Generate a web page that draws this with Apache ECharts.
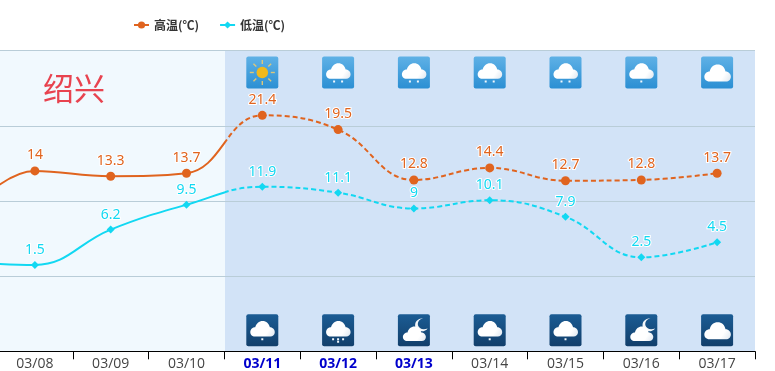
<!DOCTYPE html>
<html>
<head>
<meta charset="utf-8">
<style>html,body{margin:0;padding:0;background:#fff}#c{width:775px;height:371px}</style>
<script src="https://cdn.jsdelivr.net/npm/echarts@6/dist/echarts.min.js"></script>
</head>
<body>
<div id="c"></div>
<script>
// The first category sits off the left edge: the lines run in from it.
const categories = ['03/07','03/08','03/09','03/10','03/11','03/12','03/13','03/14','03/15','03/16','03/17'];
const forecastDays = ['03/11','03/12','03/13'];
const highTemps = [7, 14, 13.3, 13.7, 21.4, 19.5, 12.8, 14.4, 12.7, 12.8, 13.7];
const lowTemps = [2, 1.5, 6.2, 9.5, 11.9, 11.1, 9, 10.1, 7.9, 2.5, 4.5];
const dayIcons = ['sun','rain2','rain2','rain2','rain2','rain1','cloud'];
const nightIcons = ['rain1','rain3','moon','rain1','rain1','moon','cloud'];
const yTicks = {min:-10, max:30, interval:10};

const HIGH = '#e0641f', LOW = '#12d8f2';
const splitX = 225, plotRight = 755, W = 775, firstForecast = 4, SMOOTH = 0.42;
const CLOUD = 'M8.5 23C5 23 3.5 20.5 3.5 18.5C3.5 15.5 6 13.5 8.5 13.5C9.5 9.5 12.5 7 16 7C20 7 22.5 9.5 23.5 13.5C26.5 13.5 28.5 16 28.5 18.5C28.5 21 26.5 23 24 23Z';
const MOON = 'M24 4C20 5 18 8 18.5 11.5C19.5 15 23.5 17 29 15C27 18 22 19 18.5 17C15 15 14.5 10 17 7C18.5 5.2 21 4 24 4Z';

function hardStop(color, solidFirst){
  const o = splitX / W, t = 'rgba(0,0,0,0)';
  return {type:'linear', x:0, y:0, x2:W, y2:0, global:true, colorStops: solidFirst
    ? [{offset:0,color},{offset:o,color},{offset:o,color:t},{offset:1,color:t}]
    : [{offset:0,color:t},{offset:o,color:t},{offset:o,color},{offset:1,color}]};
}
function cloudShape(x, y, w, h){
  return {type:'path', shape:{pathData:CLOUD, x, y, width:w, height:h},
    style:{fill:{type:'linear',x:0,y:0,x2:1,y2:1,colorStops:[{offset:0,color:'#ffffff'},{offset:.7,color:'#ffffff'},{offset:1,color:'#dde6ef'}]}}};
}
function dots(xs, y){
  return xs.map(x => ({type:'rect', shape:{x:x-1, y:y, width:2, height:2}, style:{fill:'#f2f8fd'}}));
}
function iconChildren(name){
  if (name === 'sun') {
    const kids = [];
    for (let i = 0; i < 8; i++) {
      const a = i * Math.PI / 4;
      kids.push({type:'line', shape:{x1:16+8.5*Math.cos(a), y1:16+8.5*Math.sin(a), x2:16+12.5*Math.cos(a), y2:16+12.5*Math.sin(a)},
        style:{stroke:'#dcc77a', lineWidth:1.4}});
    }
    kids.push({type:'circle', shape:{cx:16, cy:16, r:5.8}, style:{fill:'#f1b91c'}});
    return kids;
  }
  if (name === 'moon') {
    return [{type:'path', shape:{pathData:MOON, x:17, y:4, width:13, height:13}, style:{fill:'#f4f7fa'}},
      cloudShape(5, 12, 23, 15)];
  }
  if (name === 'cloud') return [cloudShape(3, 8, 27, 17)];
  const cloud = cloudShape(4, 6.5, 24.5, 16);
  if (name === 'rain1') return [cloud].concat(dots([16], 24));
  if (name === 'rain2') return [cloud].concat(dots([12,20], 24));
  return [cloud].concat(dots([11,16,21], 24), dots([16], 26.5));
}
function iconSeries(names, yValue, top, bottom){
  return {
    type:'custom', name:'icons', silent:true, z:4, clip:false,
    data: names.map((n, i) => [firstForecast + i, yValue]),
    encode:{x:0, y:1},
    renderItem(params, api){
      const p = api.coord([api.value(0), api.value(1)]);
      return {type:'group', x:p[0]-16, y:p[1]-16, children:[
        {type:'rect', shape:{x:0,y:0,width:32,height:32,r:2},
         style:{fill:{type:'linear',x:0,y:0,x2:0,y2:1,colorStops:[{offset:0,color:top},{offset:1,color:bottom}]}}}
      ].concat(iconChildren(names[params.dataIndex]))};
    }
  };
}
function tempSeries(name, values, color, symbol, size){
  return [{
    type:'line', name, data:values, smooth:SMOOTH, symbol, symbolSize:size, z:6, showSymbol:true,
    itemStyle:{color}, lineStyle:{color:hardStop(color,true), width:2},
    label:{show:true, position:'top', distance:4, color, fontFamily:'Noto Sans', fontSize:14,
      textBorderColor:'#ffffff', textBorderWidth:2,
      formatter:p => p.dataIndex === 0 ? '' : String(p.value)}
  },{
    type:'line', name, data:values, smooth:SMOOTH, showSymbol:false, symbol:'none', z:5,
    itemStyle:{color}, lineStyle:{color:hardStop(color,false), width:2, type:[5,3]}
  }];
}

const chart = echarts.init(document.getElementById('c'), null, {renderer:'canvas'});
chart.setOption({
  animation:false,
  title:{text:'绍兴', left:38, top:68, textStyle:{color:'#e8434f', fontSize:31, fontWeight:'normal', fontFamily:'Noto Sans CJK SC'}},
  legend:{left:128, top:14, itemWidth:15, itemHeight:9, itemGap:20,
    textStyle:{color:'#333', fontSize:12, fontWeight:'bold', fontFamily:'Noto Sans CJK SC'},
    data:[
      {name:'高温(℃)', itemStyle:{color:HIGH}, lineStyle:{color:HIGH, width:2, type:'solid'}},
      {name:'低温(℃)', itemStyle:{color:LOW}, lineStyle:{color:LOW, width:2, type:'solid'}}
    ]},
  grid:{left:-78.8, width:833.8, top:50.7, height:300.6, outerBoundsMode:'none', show:true, backgroundColor:'#f1f9fe', borderWidth:0},
  xAxis:{type:'category', z:3, data:categories.map(c => forecastDays.includes(c)
      ? {value:c, textStyle:{color:'#0000cc', fontWeight:'bold'}} : c),
    axisLine:{onZero:false, lineStyle:{color:'#000', width:1}},
    axisTick:{show:true, length:8, lineStyle:{color:'#000'}},
    axisLabel:{interval:0, color:'#444', fontSize:14, margin:6, fontFamily:'Open Sans'}},
  yAxis:{type:'value', z:3, min:yTicks.min, max:yTicks.max, interval:yTicks.interval,
    axisLine:{show:false}, axisTick:{show:false}, axisLabel:{show:false},
    splitLine:{show:true, lineStyle:{color:'#b9cdd8', width:1}}},
  series:[
    {type:'line', name:'band', data:[], z:1, silent:true,
     markArea:{silent:true, z:1, itemStyle:{color:'#d2e3f7'}, data:[[{x:splitX, y:50},{x:plotRight, y:351}]]}},
    ...tempSeries('高温(℃)', highTemps, HIGH, 'circle', 9),
    ...tempSeries('低温(℃)', lowTemps, LOW, 'diamond', 8),
    iconSeries(dayIcons, 27.1, '#5fb1e6', '#2b8fd3'),
    iconSeries(nightIcons, -7.2, '#1b5c94', '#123f6b')
  ]
});
</script>
</body>
</html>
